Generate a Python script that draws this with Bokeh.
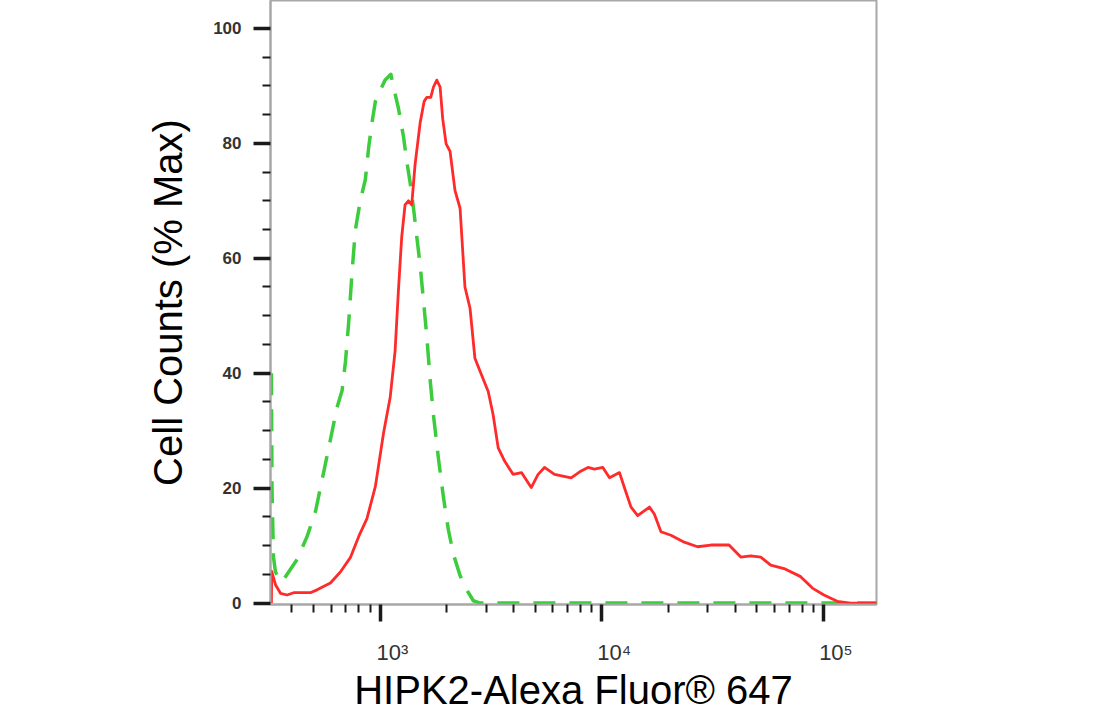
from bokeh.plotting import figure
from bokeh.models import FixedTicker, Range1d
from bokeh.embed import file_html
from bokeh.resources import INLINE

# HIPK2 stained sample (red, solid): fluorescence intensity vs % max
red_intensity = [323, 324, 337, 355, 380, 407, 484, 519, 596, 661, 733, 800, 871, 951,
                 1035, 1109, 1167, 1208, 1250, 1294, 1340, 1387, 1435, 1514, 1578, 1622,
                 1690, 1738, 1799, 1862, 1914, 1982, 2065, 2173, 2291, 2410, 2541, 2673,
                 2864, 3069, 3228, 3404, 3639, 3972, 4335, 4797, 5152, 5508, 6109, 7261,
                 8054, 8650, 9247, 10090, 10815, 11995, 12618, 13521, 14488, 16368, 17219,
                 18450, 20464, 23496, 26977, 30974, 37411, 42267, 46881, 52000, 57677,
                 66222, 78705, 88920, 100231, 115080, 132130, 174180]
red_pct = [0, 5.5, 3.2, 1.7, 1.4, 1.8, 1.8, 2.3, 3.5, 5.4, 7.9, 11.6, 14.7, 20.3,
           29.6, 35.8, 43.9, 54.4, 63.7, 69.3, 70.0, 69.3, 76.2, 83.6, 87.3, 88.0,
           88.0, 89.8, 91.0, 89.8, 84.2, 79.9, 78.6, 71.8, 68.7, 55.0, 51.3, 42.6,
           39.7, 36.8, 32.8, 27.0, 24.7, 22.4, 22.7, 20.1, 22.4, 23.6, 22.4, 21.8,
           23.0, 23.6, 23.3, 23.6, 21.8, 22.7, 20.1, 16.7, 15.2, 16.7, 15.5,
           12.4, 11.8, 10.6, 9.8, 10.1, 10.1, 8.0, 8.2, 8.0, 6.6,
           6.0, 4.6, 2.6, 1.4, 0.3, 0.0, 0.0]

# Isotype control (green, dashed)
green_intensity = [323, 325, 330, 337, 355, 361, 422, 468, 511, 556, 596, 638, 673, 697,
                   721, 746, 773, 813, 857, 887, 918, 951, 1000, 1052, 1117, 1148, 1208,
                   1274, 1318, 1365, 1413, 1462, 1514, 1567, 1622, 1679, 1738, 1828, 1928,
                   2028, 2138, 2291, 2455, 2630, 2818, 174180]
green_pct = [40.0, 20.0, 8.0, 5.4, 3.8, 3.7, 7.6, 11.6, 16.0, 22.8, 28.4, 34.0, 37.0, 42.0,
             48.9, 57.5, 65.0, 70.0, 73.7, 79.3, 83.6, 87.3, 89.2, 91.0, 92.0, 89.8, 86.1,
             81.1, 76.8, 73.1, 68.7, 63.7, 58.8, 52.6, 46.4, 38.9, 32.7, 25.3, 18.4,
             12.8, 8.5, 4.8, 2.3, 0.4, 0.0, 0.0]

y_major = [0, 20, 40, 60, 80, 100]
y_minor = [5, 10, 15, 25, 30, 35, 45, 50, 55, 65, 70, 75, 85, 90, 95]
x_major = [1000, 10000, 100000]
x_labels = ["10³", "10⁴", "10⁵"]
x_minor = [400, 500, 600, 700, 800, 900,
           2000, 3000, 4000, 5000, 6000, 7000, 8000, 9000,
           20000, 30000, 40000, 50000, 60000, 70000, 80000, 90000]

p = figure(x_axis_type="log", frame_width=606, frame_height=604,
           x_range=Range1d(320, 173000), y_range=Range1d(-0.25, 104.85),
           output_backend="svg", toolbar_location=None,
           min_border_left=270, min_border_right=220, min_border_top=0,
           min_border_bottom=100)

p.xgrid.visible = False
p.ygrid.visible = False
p.outline_line_color = "#a8a8a8"
p.outline_line_width = 2
p.background_fill_color = "white"
p.border_fill_color = "white"

p.line(green_intensity, green_pct, line_color="#3dcc3d", line_width=3.5,
       line_dash="22 14", line_join="round")
p.line(red_intensity, red_pct, line_color="#ff2a2a", line_width=2.8,
       line_join="round")

for ax in (p.xaxis[0], p.yaxis[0]):
    ax.axis_line_color = "#a8a8a8"
    ax.axis_line_width = 2
    ax.major_tick_line_color = "#1a1a1a"
    ax.minor_tick_line_color = "#1a1a1a"
    ax.major_tick_in = 0
    ax.minor_tick_in = 0
    ax.axis_label_text_font = "Liberation Sans"
    ax.axis_label_text_font_style = "normal"
    ax.axis_label_text_font_size = "40px"
    ax.axis_label_text_color = "black"
    ax.major_label_text_font = "Liberation Sans"
    ax.major_label_text_color = "#333333"

yax = p.yaxis[0]
yax.ticker = FixedTicker(ticks=y_major, minor_ticks=y_minor)
yax.major_tick_out = 17
yax.minor_tick_out = 8
yax.major_tick_line_width = 3.5
yax.minor_tick_line_width = 2
yax.major_label_standoff = 12
yax.major_label_text_font_size = "17px"
yax.major_label_text_font_style = "bold"
yax.axis_label = "Cell Counts (% Max)"
yax.axis_label_standoff = 20

xax = p.xaxis[0]
xax.ticker = FixedTicker(ticks=x_major, minor_ticks=x_minor)
xax.major_label_overrides = {t: "\u00a0" * 4 + s for t, s in zip(x_major, x_labels)}
xax.major_tick_out = 17
xax.minor_tick_out = 8
xax.major_tick_line_width = 3.5
xax.minor_tick_line_width = 2
xax.major_label_standoff = 18
xax.major_label_text_font_size = "22px"
xax.axis_label = "HIPK2-Alexa Fluor® 647"
xax.axis_label_standoff = 0

open("out.html", "w").write(file_html(p, INLINE))
